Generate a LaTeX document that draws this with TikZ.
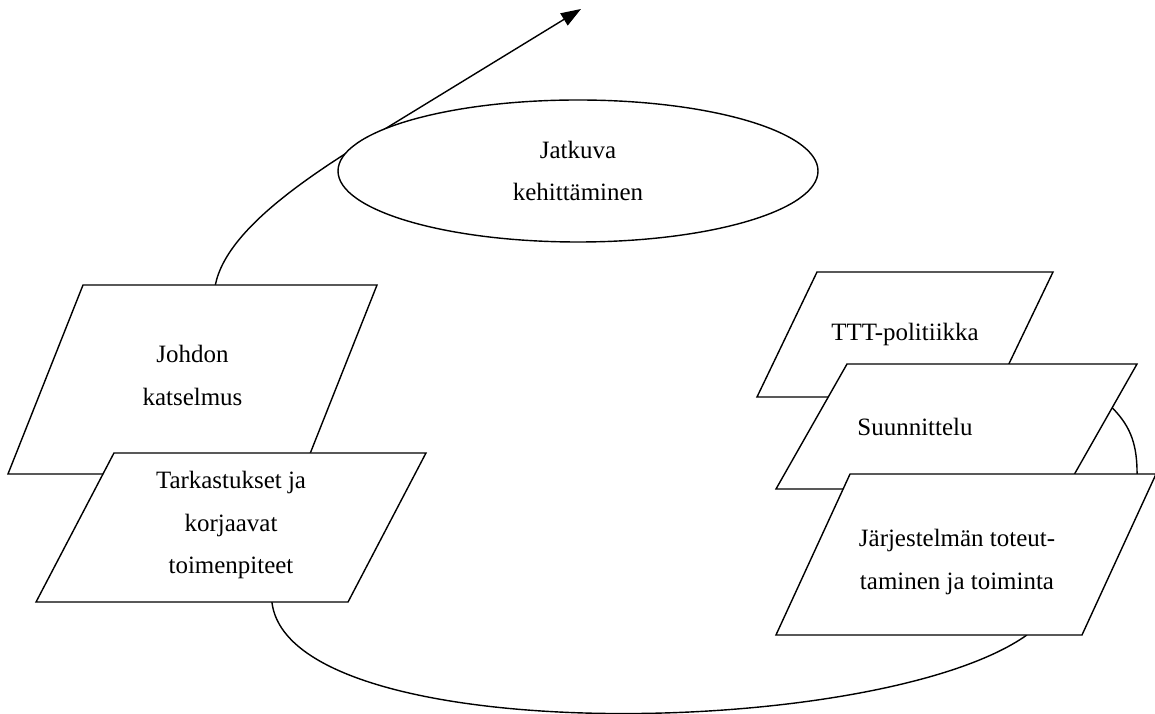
\documentclass[tikz,border=0pt]{standalone}
\usepackage{fontspec}
\setmainfont{Liberation Serif}
\usetikzlibrary{shapes.geometric,arrows.meta,backgrounds,calc}
\newcommand{\kirjain}{\fontsize{14.2pt}{24pt}\selectfont}

\begin{document}
\begin{tikzpicture}[
      laatta/.style={rectangle, draw, fill=white, line width=0.8pt,
                     inner sep=0pt, outer sep=0pt, transform shape},
      teksti/.style={align=center, font=\kirjain, inner sep=0pt},
      kehitys/.style={ellipse, draw, fill=white, line width=0.8pt,
                      minimum width=9.6cm, minimum height=2.84cm,
                      inner sep=0pt, align=center, font=\kirjain},
      kaari/.style={line width=0.8pt}]
    \useasboundingbox (0,0) rectangle (23.1,14.26);
    % Jatkuva kehittaminen
    \node[kehitys] (kehitys) at (11.56,10.84) {Jatkuva\\kehittäminen};
    % Vasen puoli
    \node[laatta, shift={(3.85,6.67)}, xslant=0.397,
          minimum width=5.88cm, minimum height=3.78cm] (johdon) {};
    \node[teksti] (johdon-t) at ([yshift=0.08cm]johdon.center) {Johdon\\katselmus};
    \node[laatta, shift={(4.62,3.71)}, xslant=0.523,
          minimum width=6.24cm, minimum height=2.98cm] (tark) {};
    \node[teksti] (tark-t) at ([yshift=0.05cm]tark.center)
          {Tarkastukset ja\\korjaavat\\toimenpiteet};
    % Oikea puoli
    \node[laatta, shift={(18.10,7.57)}, xslant=0.48,
          minimum width=4.72cm, minimum height=2.5cm] (ttt) {};
    \node[teksti] (ttt-t) at (ttt.center) {TTT-politiikka};
    \node[laatta, shift={(19.13,5.73)}, xslant=0.568,
          minimum width=5.8cm, minimum height=2.5cm] (suun) {};
    \node[teksti] (suun-t) at ([xshift=-0.83cm]suun.center) {Suunnittelu};
    \node[laatta, shift={(19.32,3.17)}, xslant=0.46,
          minimum width=6.12cm, minimum height=3.22cm] (jarj) {};
    \node[teksti] (jarj-t) at ([shift={(-0.18,-0.15)}]jarj.center)
          {Järjestelmän toteut-\\taminen ja toiminta};
    % Kaaret
    \coordinate (irtoaa) at (7.86,11.78);
    \coordinate (karki) at (11.62,14.08);
    \begin{scope}[on background layer]
      \draw[kaari, -{Triangle[length=0.4cm, width=0.28cm]}]
        ($(johdon.north west)!0.45!(johdon.north east)$)
          .. controls +(0.24,1.2) and +(-1.4,-0.86) .. (irtoaa) -- (karki);
      \draw[kaari]
        ($(suun.north east)!0.35!(suun.south east)$)
          to[out=-45, in=90]
        ($(jarj.north west)!0.938!(jarj.north east)$);
      \draw[kaari]
        ($(tark.south west)!0.756!(tark.south east)$)
          .. controls +(0.34,-2.96) and +(-2.96,-2.1) ..
        ($(jarj.south west)!0.82!(jarj.south east)$);
    \end{scope}
  \end{tikzpicture}
\end{document}
